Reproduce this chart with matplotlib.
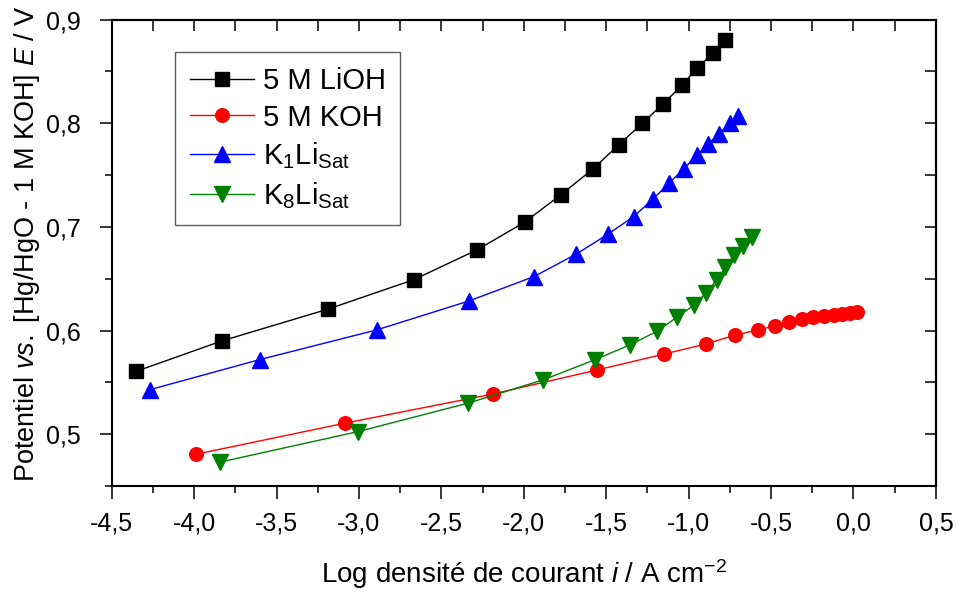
import numpy as np
import matplotlib
matplotlib.use("Agg")
import matplotlib.pyplot as plt
from matplotlib.ticker import FuncFormatter, MultipleLocator

plt.rcParams['font.family'] = ['Liberation Sans', 'DejaVu Sans']
plt.rcParams['mathtext.fontset'] = 'custom'
plt.rcParams['mathtext.rm'] = 'Liberation Sans'
plt.rcParams['mathtext.it'] = 'Liberation Sans:italic'
plt.rcParams['mathtext.bf'] = 'Liberation Sans:bold'

# ---- data ----
lioh_x = [-4.354, -3.831, -3.189, -2.668, -2.281, -1.995, -1.775, -1.582, -1.425,
          -1.280, -1.153, -1.040, -0.948, -0.852, -0.780]
lioh_y = [0.5605, 0.590, 0.6206, 0.649, 0.678, 0.7045, 0.731, 0.7556, 0.779,
          0.800, 0.819, 0.8365, 0.8535, 0.8673, 0.8805]

koh_x = [-3.987, -3.086, -2.189, -1.554, -1.151, -0.897, -0.719, -0.581, -0.476,
         -0.390, -0.313, -0.246, -0.181, -0.120, -0.070, -0.019, 0.020]
koh_y = [0.4807, 0.5106, 0.5387, 0.562, 0.5772, 0.587, 0.5955, 0.6005, 0.6045,
         0.6086, 0.6113, 0.6135, 0.6142, 0.6151, 0.6161, 0.6171, 0.6177]

k1_x = [-4.267, -3.601, -2.892, -2.331, -1.939, -1.682, -1.489, -1.333, -1.215,
        -1.120, -1.029, -0.952, -0.881, -0.814, -0.749, -0.698]
k1_y = [0.543, 0.572, 0.6006, 0.6286, 0.652, 0.6737, 0.693, 0.710, 0.727,
        0.742, 0.756, 0.769, 0.780, 0.790, 0.800, 0.807]

k8_x = [-3.845, -3.003, -2.337, -1.881, -1.571, -1.358, -1.190, -1.070, -0.968,
        -0.896, -0.830, -0.777, -0.725, -0.673, -0.613]
k8_y = [0.473, 0.5026, 0.530, 0.5525, 0.5717, 0.586, 0.5994, 0.613, 0.6245,
        0.636, 0.6485, 0.661, 0.673, 0.682, 0.6905]

labels = ['5 M LiOH', '5 M KOH', r'K$_1$Li$_{\mathrm{Sat}}$', r'K$_8$Li$_{\mathrm{Sat}}$']
xticks = [-4.5, -4.0, -3.5, -3.0, -2.5, -2.0, -1.5, -1.0, -0.5, 0.0, 0.5]
yticks = [0.5, 0.6, 0.7, 0.8, 0.9]

fig = plt.figure(figsize=(9.56, 5.92), dpi=100)
ax = fig.add_axes([0.1168, 0.179, 0.979 - 0.1168, 0.967 - 0.179])

ax.plot(lioh_x, lioh_y, color='black', lw=1.0, marker='s', ms=9.4, label=labels[0])
ax.plot(koh_x, koh_y, color='#ff0000', lw=1.0, marker='o', ms=9.8, label=labels[1])
ax.plot(k1_x, k1_y, color='#0000ff', lw=1.0, marker='^', ms=11.8, label=labels[2])
ax.plot(k8_x, k8_y, color='#008000', lw=1.0, marker='v', ms=11.8, label=labels[3],
        markerfacecolor='#008000', markeredgecolor='#008000')

ax.set_xlim(-4.5, 0.5)
ax.set_ylim(0.45, 0.9)
ax.set_xticks(xticks)
ax.set_yticks(yticks)
ax.xaxis.set_minor_locator(MultipleLocator(0.25))
ax.yaxis.set_minor_locator(MultipleLocator(0.05))
fmt = FuncFormatter(lambda v, p: f"{v:.1f}".replace('.', ','))
ax.xaxis.set_major_formatter(fmt)
ax.yaxis.set_major_formatter(fmt)

ax.tick_params(which='major', direction='out', length=9, width=1.1, labelsize=18,
               top=False, right=False)
ax.tick_params(axis='x', which='major', pad=9)
ax.tick_params(axis='y', which='major', pad=13)
ax.tick_params(which='minor', direction='out', length=4.8, width=1.1,
               top=False, right=False)
for s in ax.spines.values():
    s.set_linewidth(1.5)

# top / right inward ticks without labels
sx = ax.secondary_xaxis('top')
sx.set_xticks(np.arange(-4.5, 0.51, 0.25))
sx.tick_params(direction='in', length=8, width=1.1, labeltop=False)
sx.spines['top'].set_linewidth(1.5)
sy = ax.secondary_yaxis('right')
sy.set_yticks(np.arange(0.45, 0.901, 0.05))
sy.tick_params(direction='in', length=8, width=1.1, labelright=False)
sy.spines['right'].set_linewidth(1.5)

ax.set_xlabel(r'Log densité de courant $\mathit{i}$ / A cm$^{-2}$', fontsize=20)
ax.xaxis.set_label_coords(0.5, -0.152)
ax.set_ylabel(r'Potentiel $\mathit{vs.}$ [Hg/HgO - 1 M KOH] $\mathit{E}$ / V', fontsize=19.5)
ax.yaxis.set_label_coords(-0.085, 0.52)

leg = ax.legend(loc='upper left', bbox_to_anchor=(0.077, 0.93), borderaxespad=0,
                fontsize=21, frameon=True, fancybox=False, edgecolor='#333333',
                handlelength=2.2, handletextpad=0.3, labelspacing=0.3,
                borderpad=0.5)
leg.get_frame().set_linewidth(1.0)

fig.savefig('out.png', dpi=100)
